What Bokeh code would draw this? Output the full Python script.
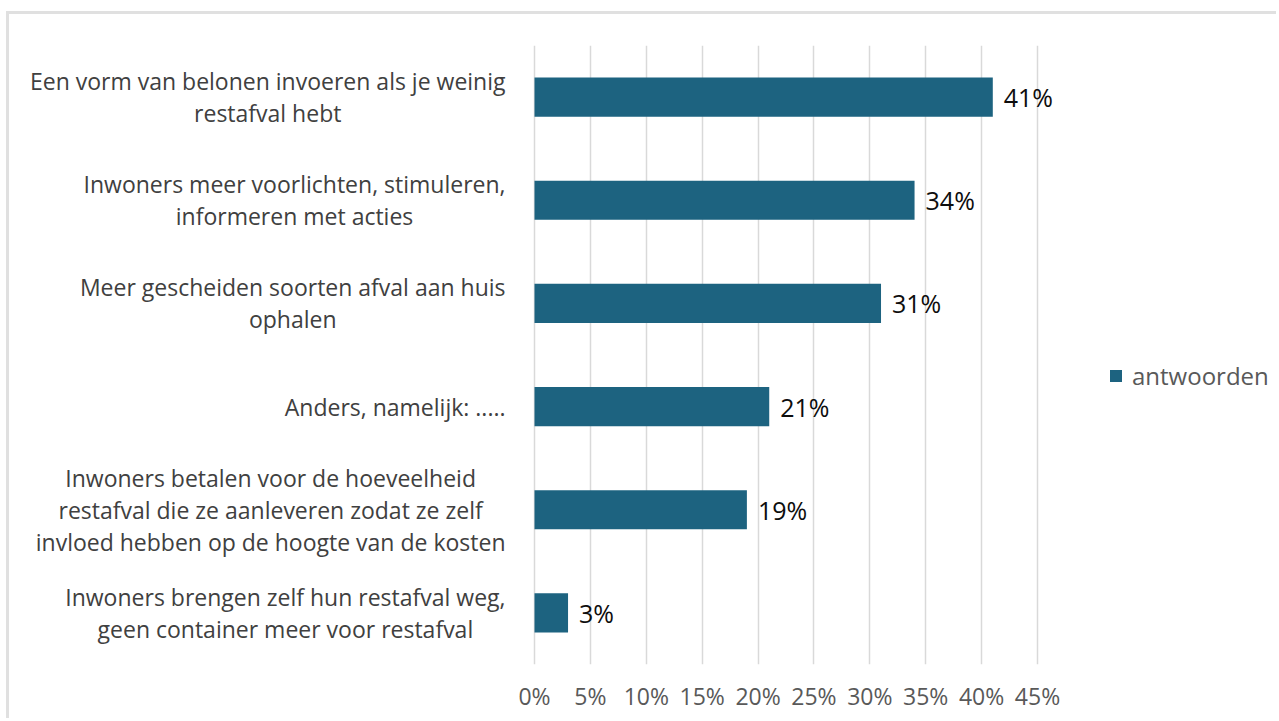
from bokeh.plotting import figure
from bokeh.models import FixedTicker, PrintfTickFormatter, ColumnDataSource, LabelSet, Legend, LegendItem
from bokeh.embed import file_html
from bokeh.resources import INLINE
from bokeh.core.properties import value

categories = [
    "Een vorm van belonen invoeren als je weinig\nrestafval hebt",
    "Inwoners meer voorlichten, stimuleren,\ninformeren met acties",
    "Meer gescheiden soorten afval aan huis\nophalen",
    "Anders, namelijk: .....",
    "Inwoners betalen voor de hoeveelheid\nrestafval die ze aanleveren zodat ze zelf\ninvloed hebben op de hoogte van de kosten",
    "Inwoners brengen zelf hun restafval weg,\ngeen container meer voor restafval",
]
values = [41, 34, 31, 21, 19, 3]
value_labels = ["41%", "34%", "31%", "21%", "19%", "3%"]
x_ticks = [0, 5, 10, 15, 20, 25, 30, 35, 40, 45]
series_name = "antwoorden"

FONT = "Open Sans"
W, H = 1270, 707

p = figure(
    width=W, height=H,
    y_range=list(reversed(categories)),
    x_range=(-46.97, 66.65),
    output_backend="svg", toolbar_location=None,
    min_border_left=0, min_border_right=0,
    min_border_top=31, min_border_bottom=57,
)
p.styles = {"border-top": "3px solid #e0e0e0", "border-left": "3px solid #e0e0e0",
            "margin-left": "6px", "margin-top": "11px"}
p.outline_line_color = None
p.background_fill_color = "white"
p.border_fill_color = "white"

src = ColumnDataSource(dict(cat=categories, val=values, lab=value_labels,
                            zero=[0] * len(values)))
r = p.hbar(y="cat", right="val", left=0, height=0.38, source=src,
           fill_color="#1d6380", line_color=None)

# category labels: block right-aligned next to the axis origin, lines centred
p.text(x="zero", y="cat", text="cat", source=src, x_offset=-29,
       anchor="center_right", text_align="center",
       text_font=value(FONT), text_font_size="23px", text_color="#404040",
       text_line_height=1.0)

labels = LabelSet(x="val", y="cat", text="lab", source=src, x_offset=11,
                  text_baseline="middle", text_align="left",
                  text_font=value(FONT), text_font_size="25px", text_color="#0d0d0d")
p.add_layout(labels)

# axes
p.xaxis.ticker = FixedTicker(ticks=x_ticks)
p.xaxis.formatter = PrintfTickFormatter(format="%d%%")
p.xaxis.axis_line_color = None
p.xaxis.major_tick_line_color = None
p.xaxis.minor_tick_line_color = None
p.xaxis.major_label_standoff = 9
p.xaxis.major_label_text_font = FONT
p.xaxis.major_label_text_font_size = "23px"
p.xaxis.major_label_text_color = "#595959"

p.yaxis.visible = False

p.xgrid.ticker = FixedTicker(ticks=x_ticks)
p.xgrid.grid_line_color = "#d9d9d9"
p.xgrid.grid_line_width = 1.5
p.ygrid.grid_line_color = None

legend = Legend(items=[LegendItem(label=series_name, renderers=[r])],
                location=(574 + 525, 272), orientation="vertical",
                border_line_color=None, background_fill_alpha=0,
                glyph_width=15, glyph_height=15, label_standoff=9,
                padding=4, margin=0,
                label_text_font=FONT, label_text_font_size="24px",
                label_text_color="#595959")
p.add_layout(legend, "center")

open("out.html", "w").write(file_html(p, INLINE))
